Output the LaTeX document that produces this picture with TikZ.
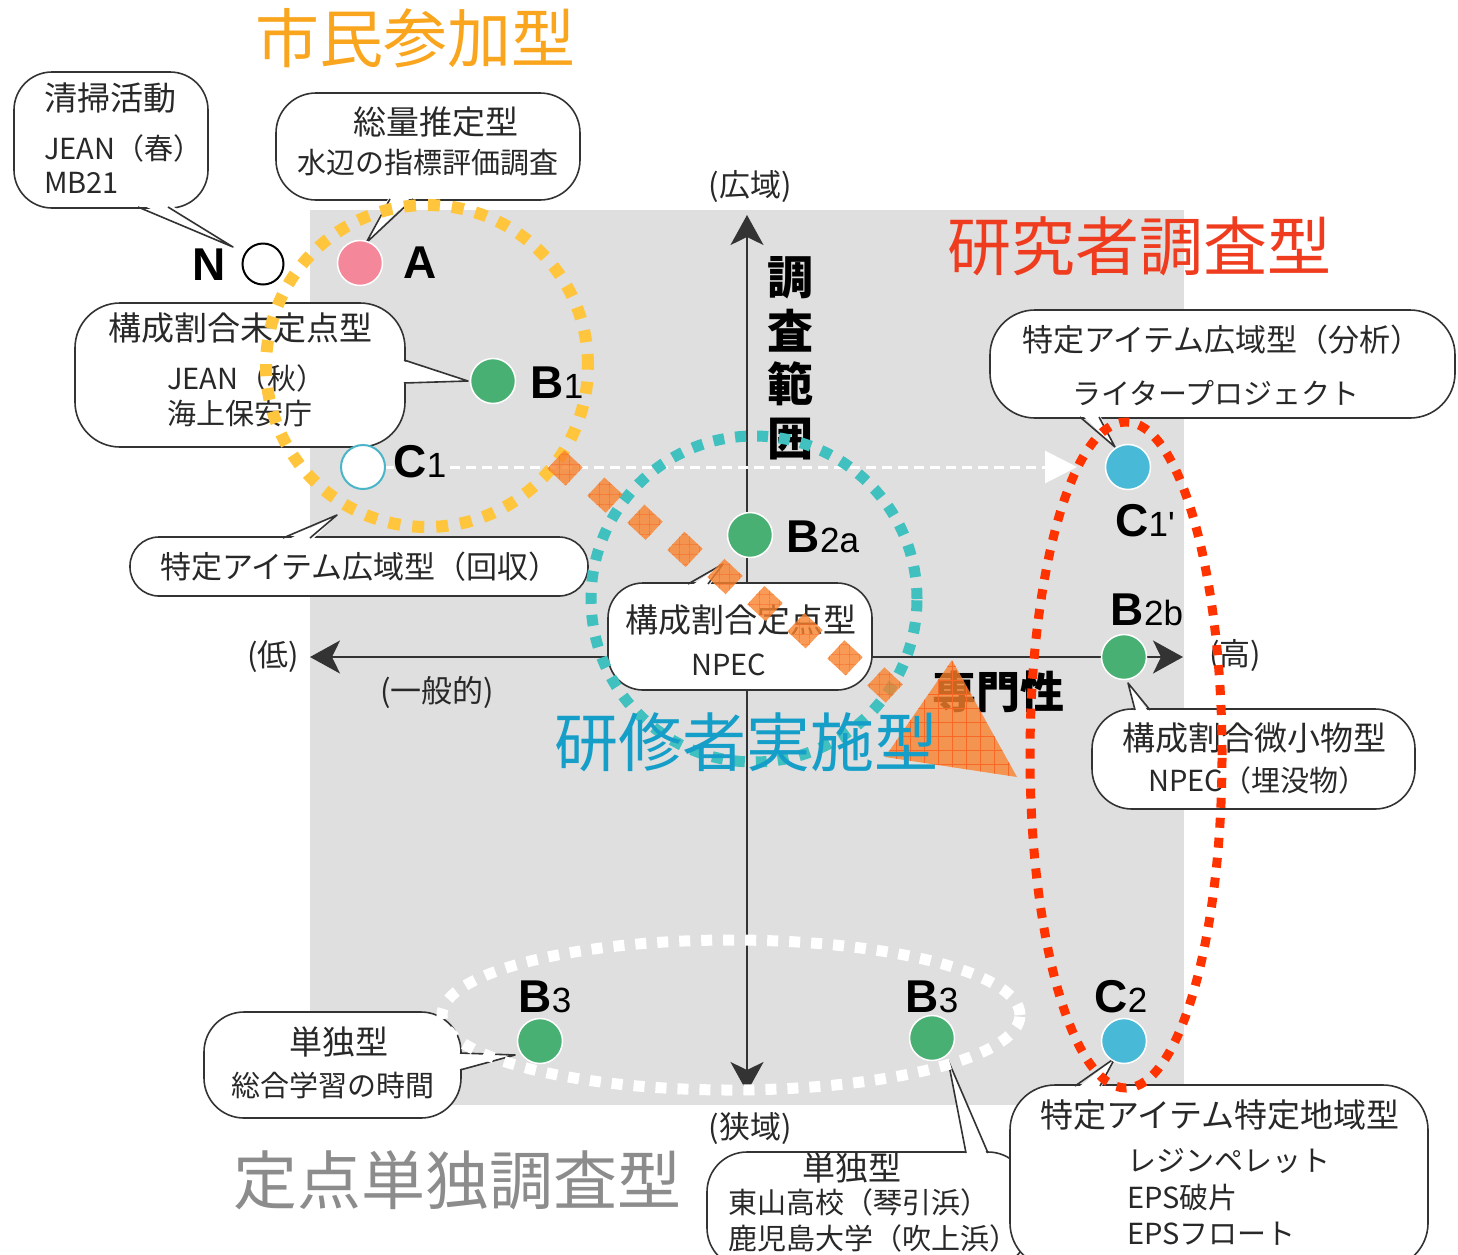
\documentclass[tikz,border=0pt]{standalone}
\usepackage{fontspec}
\setmainfont{Noto Sans CJK JP}
\newfontfamily\lat{Liberation Sans}
\usetikzlibrary{arrows.meta,calc,patterns.meta}
\definecolor{bggray}{RGB}{223,223,223}
\definecolor{txt}{RGB}{40,40,40}
\definecolor{pinkc}{RGB}{245,135,155}
\definecolor{greenc}{RGB}{72,176,114}
\definecolor{bluec}{RGB}{72,185,214}
\definecolor{tealo}{RGB}{74,181,200}
\definecolor{yelc}{RGB}{255,197,61}
\definecolor{tealc}{RGB}{64,192,190}
\definecolor{redc}{RGB}{255,51,0}
\definecolor{orgc}{RGB}{248,130,45}
\definecolor{t1c}{RGB}{250,165,30}
\definecolor{t2c}{RGB}{240,60,30}
\definecolor{t3c}{RGB}{20,158,200}
\definecolor{t4c}{RGB}{140,140,140}
\newcommand\mybub[6]{\node[bubble, minimum width=#4bp, minimum height=#5bp, rounded corners=#6bp] (#1) at (#2,#3) {};}
\newcommand\mytail[9]{%
  \coordinate (#1a) at (#2,#3);
  \coordinate (#1b) at (#4,#5);
  \coordinate (#1t) at (#6,#7);
  \fill[white] ($(#1a)+(#8,#9)$) -- (#1t) -- ($(#1b)+(#8,#9)$) -- cycle;
  \draw[bubline] (#1a) -- (#1t) -- (#1b);}
\newcommand\lsub[1]{{\mdseries\fontsize{35bp}{35bp}\selectfont #1}}
\begin{document}
\begin{tikzpicture}[x=1bp,y=-1bp,
  >={Stealth[length=30bp,width=33bp,inset=8bp]},
  bubline/.style={draw=black!80, line width=1.6bp, line join=round},
  bubble/.style={bubline, fill=white, inner sep=0pt, rectangle},
  pt/.style={circle, minimum size=45bp, inner sep=0pt, draw=white, line width=1.5bp, fill=#1},
  lab/.style={inner sep=0pt, font=\lat\bfseries\fontsize{46bp}{46bp}\selectfont},
  ta/.style={inner sep=0pt, text=txt, font=\fontsize{33bp}{33bp}\selectfont},
  tb/.style={inner sep=0pt, text=txt, font=\fontsize{29bp}{29bp}\selectfont},
  axl/.style={inner sep=0pt, text=txt, font=\fontsize{31bp}{31bp}\selectfont},
  ttl/.style={inner sep=0pt, font=\fontsize{64bp}{64bp}\selectfont},
  axis/.style={draw=black!80, line width=2bp, <->},
  dotc/.style={line width=#1, dash pattern=on #1 off #1},
  osq/.style={rectangle, minimum size=25bp, inner sep=0pt, rotate=47, fill=orgc, fill opacity=0.8,
    postaction={pattern={Hatch[angle=0,distance=10bp,line width=0.6bp]}, pattern color=orgc!80!red}},
]
\useasboundingbox (0,0) rectangle (1458,1254);
\clip (0,0) rectangle (1458,1254);
% background
\fill[bggray] (310,210) rectangle (1184,1105);
% axes
\coordinate (axL) at (310,657);
\coordinate (axR) at (1183,657);
\coordinate (axT) at (747,215);
\coordinate (axB) at (747,1092);
\draw[axis] (axL) -- (axR);
\draw[axis] (axT) -- (axB);
% axis labels
\node[axl] (lKo) at (750,187) {(広域)};
\node[axl] (lKy) at (750,1128) {(狭域)};
\node[axl] (lLo) at (273,657) {(低)};
\node[axl] (lHi) at (1235,655) {(高)};
\node[axl] (lIp) at (437,692) {(一般的)};
\node[inner sep=0pt, align=center, font=\bfseries\fontsize{46bp}{53.5bp}\selectfont] (lCh) at (790,358) {調\\査\\範\\囲};
\node[inner sep=0pt, font=\bfseries\fontsize{44bp}{44bp}\selectfont] (lSe) at (998,692) {専門性};
% bubbles
\mybub{b1}{111}{140}{194}{136}{38}
\mytail{t1}{138}{207}{168}{207}{233}{247}{0}{-4}
\mybub{b2}{428}{146.5}{304}{107}{40}
\mytail{t2}{390}{199}{413}{199}{366}{243}{0}{-4}
\mybub{b3}{240}{375}{330}{144}{45}
\mytail{t3}{404}{360}{404}{383}{468}{381}{-4}{0}
\mybub{b4}{359}{566.5}{458}{59}{29}
\mytail{t4}{283}{538}{310}{538}{337}{515}{0}{4}
\mybub{b5}{740}{636.5}{264}{107}{35}
\mytail{t5}{688}{584}{708}{584}{723}{564}{0}{4}
\mybub{b6}{1222.5}{364}{465}{108}{45}
\mytail{t6}{1080}{417}{1099}{417}{1115}{447}{0}{-4}
\mybub{b7}{1253.5}{759}{323}{100}{40}
\mytail{t7}{1135}{710}{1150}{710}{1128}{683}{0}{4}
\mybub{b8}{332.5}{1065}{257}{106}{40}
\mytail{t8}{460}{1053}{460}{1070}{515}{1055}{-4}{0}
\mybub{b9}{867.5}{1210}{321}{116}{40}
\mytail{t9}{966}{1153}{988}{1153}{948}{1060}{0}{4}
\mybub{b10}{1219}{1176.5}{418}{183}{45}
\mytail{t10}{1075}{1086}{1100}{1086}{1115}{1058}{0}{4}
% bubble texts
\node[ta, anchor=west] (x1a) at (44,98) {清掃活動};
\node[tb, anchor=west] (x1b) at (44,148) {JEAN（春）};
\node[tb, anchor=west] (x1c) at (44,183) {MB21};
\node[ta] (x2a) at (436,122) {総量推定型};
\node[tb] (x2b) at (428,163) {水辺の指標評価調査};
\node[ta] (x3a) at (240,328) {構成割合未定点型};
\node[tb, anchor=west] (x3b) at (167,378) {JEAN（秋）};
\node[tb, anchor=west] (x3c) at (167,413) {海上保安庁};
\node[ta, font=\fontsize{31bp}{31bp}\selectfont] (x4a) at (360,567) {特定アイテム広域型（回収）};
\node[ta] (x5a) at (741,620) {構成割合定点型};
\node[tb] (x5b) at (729,665) {NPEC};
\node[ta, font=\fontsize{31bp}{31bp}\selectfont] (x6a) at (1222,340) {特定アイテム広域型（分析）};
\node[tb] (x6b) at (1216,393) {ライタープロジェクト};
\node[ta] (x7a) at (1254,738) {構成割合微小物型};
\node[tb] (x7b) at (1258,780) {NPEC（埋没物）};
\node[ta] (x8a) at (339,1042) {単独型};
\node[tb] (x8b) at (333,1085) {総合学習の時間};
\node[ta] (x9a) at (852,1168) {単独型};
\node[tb, anchor=west] (x9b) at (728,1202) {東山高校（琴引浜）};
\node[tb, anchor=west] (x9c) at (728,1238) {鹿児島大学（吹上浜）};
\node[ta] (x10a) at (1220,1115) {特定アイテム特定地域型};
\node[tb, anchor=west] (x10b) at (1127,1161) {レジンペレット};
\node[tb, anchor=west] (x10c) at (1127,1197) {EPS破片};
\node[tb, anchor=west] (x10d) at (1127,1234) {EPSフロート};
% points
\node[circle, minimum size=41bp, inner sep=0pt, draw=black, line width=2bp, fill=white] (pN) at (263,264) {};
\node[pt=pinkc] (pA) at (360,263) {};
\node[pt=greenc] (pB1) at (493,381) {};
\node[circle, minimum size=44bp, inner sep=0pt, draw=tealo, line width=2bp, fill=white] (pC1) at (363,467) {};
\node[pt=greenc] (pB2a) at (750,535) {};
\node[pt=bluec] (pC1p) at (1128,467) {};
\node[pt=greenc] (pB2b) at (1124,657) {};
\node[pt=greenc] (pB3l) at (540,1041) {};
\node[pt=greenc] (pB3r) at (932,1038) {};
\node[pt=bluec] (pC2) at (1124,1041) {};
% white dashed arrow
\coordinate (wEnd) at (1077,467);
\draw[white, line width=3bp, dash pattern=on 10bp off 6bp, -{Triangle[length=32bp,width=32bp]}] (pC1.east) -- (wEnd);
% point labels
\node[lab] (lN) at (209,265) {N};
\node[lab] (lA) at (420,263) {A};
\node[lab] (lB1) at (557,383) {B\lsub{1}};
\node[lab, fill=bggray] (lC1) at (420,462) {C\lsub{1}};
\node[lab] (lB2a) at (823,537) {B\lsub{2a}};
\node[lab] (lC1p) at (1145,521) {C\lsub{1'}};
\node[lab] (lB2b) at (1147,610) {B\lsub{2b}};
\node[lab] (lB3l) at (545,997) {B\lsub{3}};
\node[lab] (lB3r) at (932,997) {B\lsub{3}};
\node[lab] (lC2) at (1121,997) {C\lsub{2}};
% dotted groups
\draw[yelc, dotc=12bp] (427,366) circle[radius=161bp];
\draw[tealc, dotc=11bp] (754,599) circle[radius=163bp];
\draw[white, dotc=11bp] (731,1015) ellipse[x radius=289bp, y radius=75bp];
\draw[redc, line width=9bp, dash pattern=on 10bp off 10bp] (1126,755) ellipse[x radius=96bp, y radius=333bp];
% orange arrow
\coordinate (os) at (565,468);
\coordinate (oe) at (885,685);
\foreach \i in {0,...,8} \node[osq] (d\i) at ($(os)!\i/8!(oe)$) {};
\fill[orgc, fill opacity=0.8, postaction={pattern={Hatch[angle=0,distance=14bp,line width=0.6bp]}, pattern color=orgc!80!red}] (952,660) -- (1017,777) -- (885,757) -- cycle;
% titles
\node[ttl, text=t1c] (T1) at (415,38) {市民参加型};
\node[ttl, text=t2c] (T2) at (1139,246) {研究者調査型};
\node[ttl, text=t3c] (T3) at (746,742) {研修者実施型};
\node[ttl, text=t4c] (T4) at (457,1180) {定点単独調査型};
\end{tikzpicture}
\end{document}
